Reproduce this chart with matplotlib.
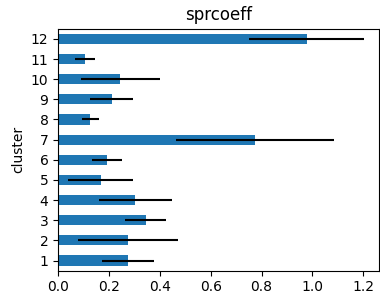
import matplotlib
matplotlib.use("Agg")
import matplotlib.pyplot as plt
import numpy as np

clusters = [1, 2, 3, 4, 5, 6, 7, 8, 9, 10, 11, 12]
values = [0.275, 0.275, 0.345, 0.304, 0.168, 0.193, 0.775, 0.127, 0.210, 0.245, 0.106, 0.977]
errors = [0.102, 0.198, 0.081, 0.143, 0.128, 0.060, 0.310, 0.033, 0.085, 0.155, 0.040, 0.227]

fig = plt.figure(figsize=(3.8, 3.0), dpi=100)
ax = fig.add_axes([0.153, 0.098, 0.845, 0.806])
pos = np.arange(len(clusters))
ax.barh(pos, values, height=0.5, color="#1f77b4", xerr=errors,
        error_kw=dict(ecolor="black", elinewidth=1.5, capsize=0))
ax.set_yticks(pos)
ax.set_yticklabels([str(c) for c in clusters])
ax.set_ylim(-0.5, len(clusters) - 0.5)
ax.set_xlim(0, 1.263)
ax.set_xticks([0.0, 0.2, 0.4, 0.6, 0.8, 1.0, 1.2])
ax.set_ylabel("cluster")
ax.set_title("sprcoeff")
fig.savefig("out.png", dpi=100)
